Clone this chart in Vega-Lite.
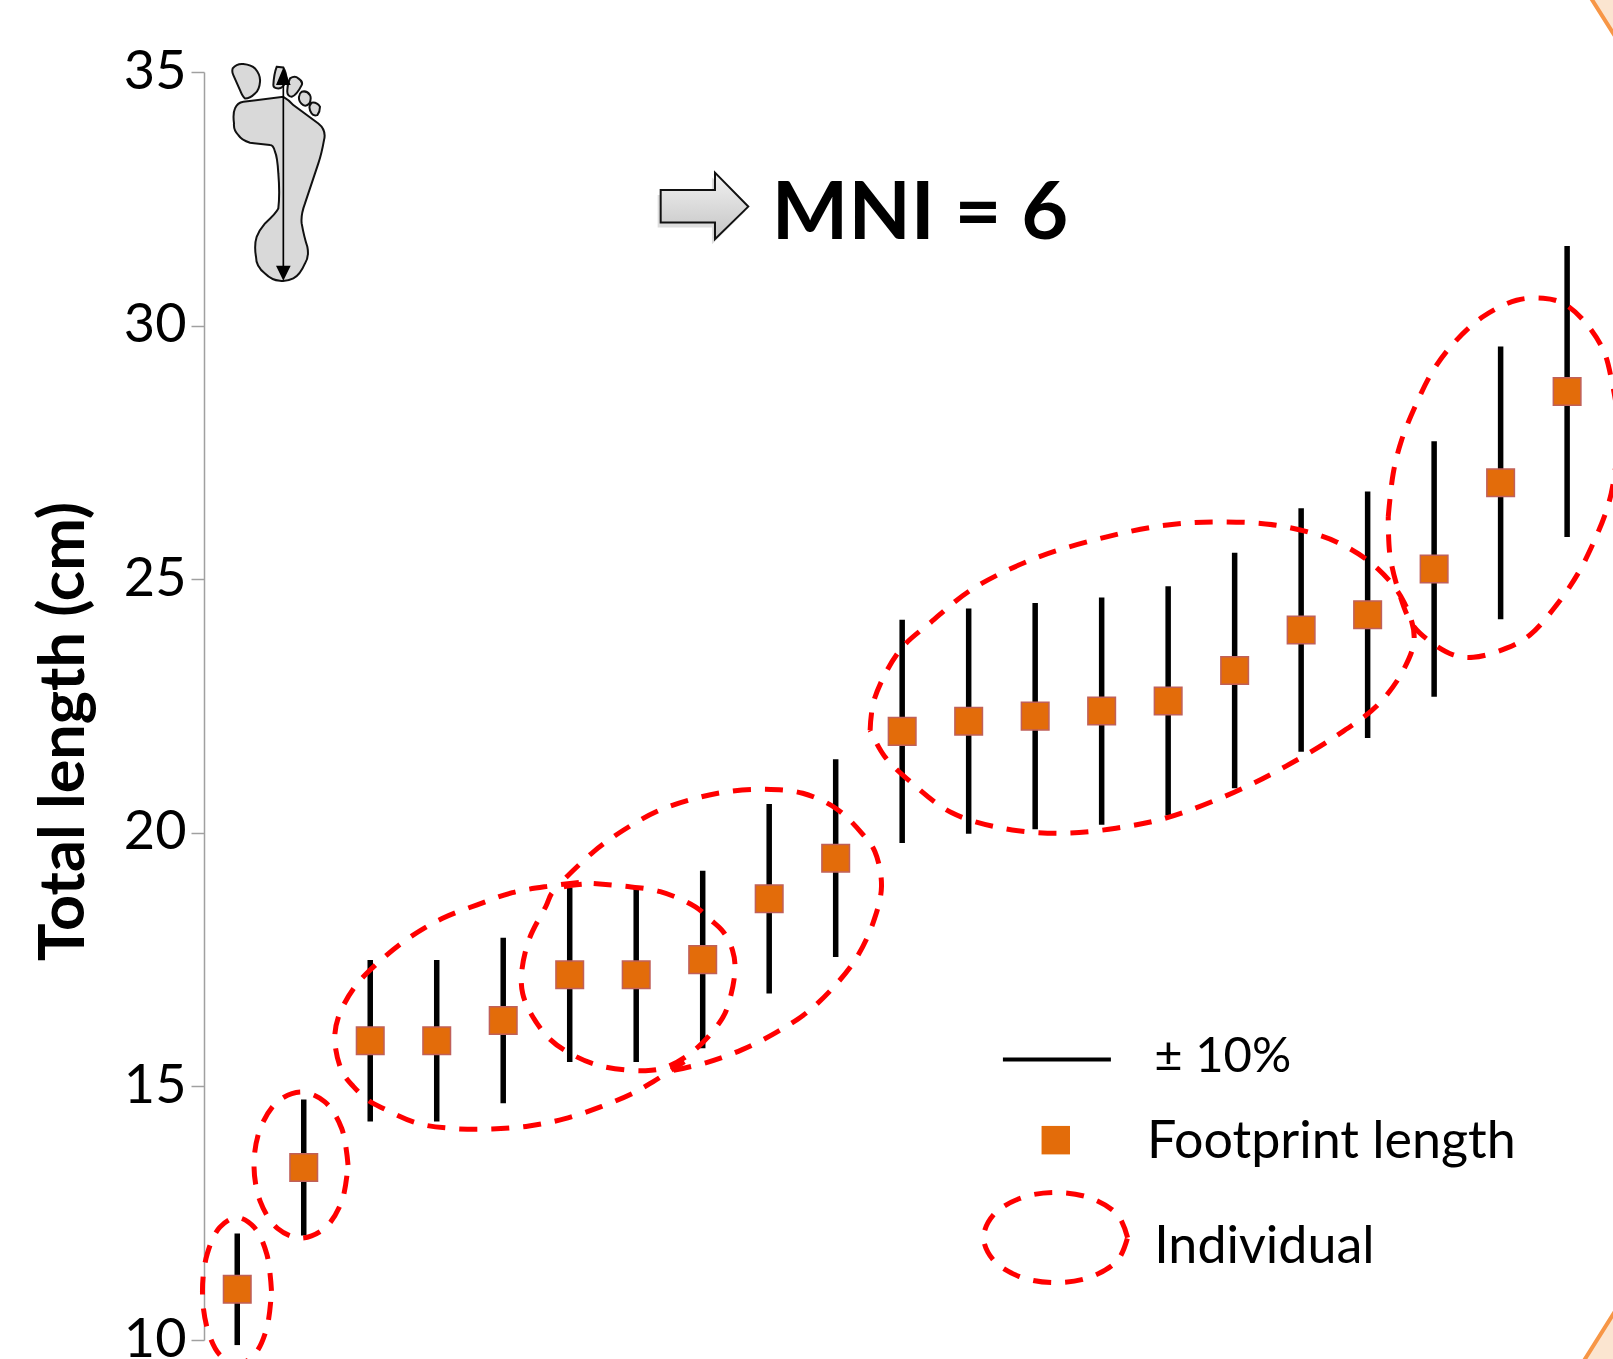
{
"$schema":"https://vega.github.io/schema/vega-lite/v6.json",
"width":1409,"height":1268,
"autosize":{"type":"none"},
"padding":{"left":204,"top":72,"right":0,"bottom":19},
"background":"white",
"config":{"view":{"stroke":null},"font":"Lato"},
"resolve":{"axis":{"x":"independent","y":"independent"}},
"datasets":{
"footprints":[
{"n":1,"length":11,"lo":9.9,"hi":12.1},{"n":2,"length":13.4,"lo":12.06,"hi":14.74},{"n":3,"length":15.9,"lo":14.31,"hi":17.49},{"n":4,"length":15.9,"lo":14.31,"hi":17.49},{"n":5,"length":16.3,"lo":14.67,"hi":17.93},{"n":6,"length":17.2,"lo":15.48,"hi":18.92},{"n":7,"length":17.2,"lo":15.48,"hi":18.92},{"n":8,"length":17.5,"lo":15.75,"hi":19.25},{"n":9,"length":18.7,"lo":16.83,"hi":20.57},{"n":10,"length":19.5,"lo":17.55,"hi":21.45},{"n":11,"length":22,"lo":19.8,"hi":24.2},{"n":12,"length":22.2,"lo":19.98,"hi":24.42},{"n":13,"length":22.3,"lo":20.07,"hi":24.53},{"n":14,"length":22.4,"lo":20.16,"hi":24.64},{"n":15,"length":22.6,"lo":20.34,"hi":24.86},{"n":16,"length":23.2,"lo":20.88,"hi":25.52},{"n":17,"length":24,"lo":21.6,"hi":26.4},{"n":18,"length":24.3,"lo":21.87,"hi":26.73},{"n":19,"length":25.2,"lo":22.68,"hi":27.72},{"n":20,"length":26.9,"lo":24.21,"hi":29.59},{"n":21,"length":28.7,"lo":25.83,"hi":31.57}],
"outlines":[
{"id":"a","s":1,"x":1.515,"y":10.97},{"id":"a","s":2,"x":1.445,"y":11.69},{"id":"a","s":3,"x":1.256,"y":12.22},{"id":"a","s":4,"x":0.996,"y":12.415},{"id":"a","s":5,"x":0.736,"y":12.22},{"id":"a","s":6,"x":0.547,"y":11.69},{"id":"a","s":7,"x":0.477,"y":10.97},{"id":"a","s":8,"x":0.547,"y":10.24},{"id":"a","s":9,"x":0.736,"y":9.71},{"id":"a","s":10,"x":0.996,"y":9.52},{"id":"a","s":11,"x":1.256,"y":9.71},{"id":"a","s":12,"x":1.445,"y":10.24},{"id":"a","s":13,"x":1.515,"y":10.97},
{"id":"b","s":1,"x":2.666,"y":13.45},{"id":"b","s":2,"x":2.571,"y":14.17},{"id":"b","s":3,"x":2.313,"y":14.7},{"id":"b","s":4,"x":1.959,"y":14.89},{"id":"b","s":5,"x":1.605,"y":14.7},{"id":"b","s":6,"x":1.347,"y":14.17},{"id":"b","s":7,"x":1.252,"y":13.45},{"id":"b","s":8,"x":1.347,"y":12.73},{"id":"b","s":9,"x":1.605,"y":12.2},{"id":"b","s":10,"x":1.959,"y":12.01},{"id":"b","s":11,"x":2.313,"y":12.2},{"id":"b","s":12,"x":2.571,"y":12.73},{"id":"b","s":13,"x":2.666,"y":13.45},
{"id":"c","s":1,"x":6.138,"y":19.02},{"id":"c","s":2,"x":5.693,"y":18.95},{"id":"c","s":3,"x":5.137,"y":18.82},{"id":"c","s":4,"x":4.608,"y":18.58},{"id":"c","s":5,"x":4.08,"y":18.31},{"id":"c","s":6,"x":3.607,"y":17.95},{"id":"c","s":7,"x":3.162,"y":17.49},{"id":"c","s":8,"x":2.773,"y":16.97},{"id":"c","s":9,"x":2.522,"y":16.37},{"id":"c","s":10,"x":2.467,"y":15.91},{"id":"c","s":11,"x":2.578,"y":15.29},{"id":"c","s":12,"x":2.745,"y":15.0},{"id":"c","s":13,"x":2.967,"y":14.73},{"id":"c","s":14,"x":3.19,"y":14.57},{"id":"c","s":15,"x":3.718,"y":14.27},{"id":"c","s":16,"x":4.247,"y":14.17},{"id":"c","s":17,"x":4.831,"y":14.16},{"id":"c","s":18,"x":5.387,"y":14.22},{"id":"c","s":19,"x":5.916,"y":14.36},{"id":"c","s":20,"x":6.472,"y":14.6},{"id":"c","s":21,"x":6.973,"y":14.88},{"id":"c","s":22,"x":7.251,"y":15.09},{"id":"c","s":23,"x":7.724,"y":15.49},
{"id":"d","s":1,"x":6.361,"y":19.0},{"id":"d","s":2,"x":6.806,"y":18.95},{"id":"d","s":3,"x":7.362,"y":18.84},{"id":"d","s":4,"x":7.891,"y":18.54},{"id":"d","s":5,"x":8.113,"y":18.29},{"id":"d","s":6,"x":8.308,"y":18.05},{"id":"d","s":7,"x":8.447,"y":17.69},{"id":"d","s":8,"x":8.486,"y":17.3},{"id":"d","s":9,"x":8.391,"y":16.64},{"id":"d","s":10,"x":8.28,"y":16.31},{"id":"d","s":11,"x":7.891,"y":15.73},{"id":"d","s":12,"x":7.474,"y":15.39},{"id":"d","s":13,"x":7.14,"y":15.31},{"id":"d","s":14,"x":6.416,"y":15.42},{"id":"d","s":15,"x":5.916,"y":15.72},{"id":"d","s":16,"x":5.665,"y":15.98},{"id":"d","s":17,"x":5.415,"y":16.44},{"id":"d","s":18,"x":5.293,"y":16.83},{"id":"d","s":19,"x":5.276,"y":17.23},{"id":"d","s":20,"x":5.387,"y":17.89},{"id":"d","s":21,"x":5.638,"y":18.54},{"id":"d","s":22,"x":5.777,"y":18.87},{"id":"d","s":23,"x":6.361,"y":19.0},
{"id":"e","s":1,"x":5.944,"y":19.12},{"id":"e","s":2,"x":6.361,"y":19.63},{"id":"e","s":3,"x":6.806,"y":20.05},{"id":"e","s":4,"x":7.307,"y":20.42},{"id":"e","s":5,"x":7.835,"y":20.66},{"id":"e","s":6,"x":8.364,"y":20.81},{"id":"e","s":7,"x":8.948,"y":20.86},{"id":"e","s":8,"x":9.504,"y":20.78},{"id":"e","s":9,"x":10.005,"y":20.48},{"id":"e","s":10,"x":10.394,"y":19.99},{"id":"e","s":11,"x":10.589,"y":19.63},{"id":"e","s":12,"x":10.689,"y":18.94},{"id":"e","s":13,"x":10.561,"y":18.22},{"id":"e","s":14,"x":10.311,"y":17.53},{"id":"e","s":15,"x":9.977,"y":16.97},{"id":"e","s":16,"x":9.56,"y":16.45},{"id":"e","s":17,"x":9.087,"y":16.05},{"id":"e","s":18,"x":8.586,"y":15.72},{"id":"e","s":19,"x":8.058,"y":15.47},{"id":"e","s":20,"x":7.501,"y":15.3},
{"id":"f","s":1,"x":10.518,"y":22.02},{"id":"f","s":2,"x":10.58,"y":22.63},{"id":"f","s":3,"x":10.966,"y":23.6},{"id":"f","s":4,"x":11.43,"y":24.15},{"id":"f","s":5,"x":12.049,"y":24.8},{"id":"f","s":6,"x":12.977,"y":25.4},{"id":"f","s":7,"x":14.06,"y":25.83},{"id":"f","s":8,"x":14.988,"y":26.07},{"id":"f","s":9,"x":15.839,"y":26.13},{"id":"f","s":10,"x":16.69,"y":26.05},{"id":"f","s":11,"x":17.54,"y":25.73},{"id":"f","s":12,"x":18.159,"y":25.2},{"id":"f","s":13,"x":18.546,"y":24.55},{"id":"f","s":14,"x":18.7,"y":23.84},{"id":"f","s":15,"x":18.546,"y":23.23},{"id":"f","s":16,"x":18.159,"y":22.53},{"id":"f","s":17,"x":17.54,"y":21.92},{"id":"f","s":18,"x":16.767,"y":21.31},{"id":"f","s":19,"x":15.994,"y":20.8},{"id":"f","s":20,"x":14.988,"y":20.3},{"id":"f","s":21,"x":14.215,"y":20.09},{"id":"f","s":22,"x":13.364,"y":19.99},{"id":"f","s":23,"x":12.513,"y":20.09},{"id":"f","s":24,"x":11.74,"y":20.4},{"id":"f","s":25,"x":11.121,"y":21.01},{"id":"f","s":26,"x":10.734,"y":21.51},{"id":"f","s":27,"x":10.518,"y":22.02},
{"id":"g","s":1,"x":18.31,"y":26.23},{"id":"g","s":2,"x":18.385,"y":27.09},{"id":"g","s":3,"x":18.51,"y":27.74},{"id":"g","s":4,"x":18.736,"y":28.47},{"id":"g","s":5,"x":18.987,"y":29.12},{"id":"g","s":6,"x":19.312,"y":29.68},{"id":"g","s":7,"x":19.738,"y":30.18},{"id":"g","s":8,"x":20.24,"y":30.5},{"id":"g","s":9,"x":20.641,"y":30.54},{"id":"g","s":10,"x":20.941,"y":30.44},{"id":"g","s":11,"x":21.242,"y":30.11},{"id":"g","s":12,"x":21.543,"y":29.52},{"id":"g","s":13,"x":21.668,"y":28.93},{"id":"g","s":14,"x":21.768,"y":28.01},{"id":"g","s":15,"x":21.693,"y":26.89},{"id":"g","s":16,"x":21.593,"y":26.36},{"id":"g","s":17,"x":21.393,"y":25.71},{"id":"g","s":18,"x":21.167,"y":25.12},{"id":"g","s":19,"x":20.841,"y":24.49},{"id":"g","s":20,"x":20.44,"y":23.9},{"id":"g","s":21,"x":20.089,"y":23.64},{"id":"g","s":22,"x":19.588,"y":23.46},{"id":"g","s":23,"x":19.287,"y":23.51},{"id":"g","s":24,"x":18.911,"y":23.8},{"id":"g","s":25,"x":18.661,"y":24.13},{"id":"g","s":26,"x":18.46,"y":24.79},{"id":"g","s":27,"x":18.335,"y":25.48},{"id":"g","s":28,"x":18.31,"y":26.23},
{"id":"legend","s":1,"x":14.39,"y":12.02},{"id":"legend","s":2,"x":14.245,"y":12.46},{"id":"legend","s":3,"x":13.849,"y":12.79},{"id":"legend","s":4,"x":13.307,"y":12.91},{"id":"legend","s":5,"x":12.765,"y":12.79},{"id":"legend","s":6,"x":12.369,"y":12.46},{"id":"legend","s":7,"x":12.224,"y":12.02},{"id":"legend","s":8,"x":12.369,"y":11.58},{"id":"legend","s":9,"x":12.765,"y":11.25},{"id":"legend","s":10,"x":13.307,"y":11.13},{"id":"legend","s":11,"x":13.849,"y":11.25},{"id":"legend","s":12,"x":14.245,"y":11.58},{"id":"legend","s":13,"x":14.39,"y":12.02}],
"labels":[
{"text":"Footprint length","x":14.68,"y":13.9},
{"text":"Individual","x":14.79,"y":11.83}]
},
"layer":[
{"data":{"name":"footprints"},"mark":{"type":"rule","color":"black","strokeWidth":5.5},
"encoding":{
"x":{"field":"n","type":"quantitative","scale":{"domain":[0.5,21.69],"nice":false,"zero":false},"axis":null},
"y":{"field":"lo","type":"quantitative","scale":{"domain":[10,35],"nice":false,"zero":false},
"axis":{"title":"Total length (cm)","titleFontSize":63,"titleFontWeight":"bold","titleColor":"black","titleFont":"Lato","titleX":-140,"titleY":659,"titleAngle":-90,"titleAlign":"center","titleBaseline":"middle","values":[10,15,20,25,30,35],"grid":false,"domainColor":"#a0a0a0","domainWidth":1.5,"tickColor":"#a0a0a0","tickWidth":1.5,"tickSize":13,"labelFontSize":54,"labelFont":"Lato","labelColor":"black","labelPadding":5,"labelBound":false,"labelFlush":false,"labelOverlap":false}},
"y2":{"field":"hi"}}},
{"data":{"name":"outlines"},"mark":{"type":"line","color":"#ff0000","strokeWidth":5,"strokeDash":[18,14],"interpolate":"catmull-rom"},
"encoding":{
"x":{"field":"x","type":"quantitative","axis":null},
"y":{"field":"y","type":"quantitative","axis":null},
"detail":{"field":"id"},
"order":{"field":"s","type":"quantitative"}}},
{"data":{"name":"footprints"},"mark":{"type":"square","size":760,"fill":"#E36C0A","stroke":"#C0605A","strokeWidth":1.5,"opacity":1},
"encoding":{
"x":{"field":"n","type":"quantitative","axis":null},
"y":{"field":"length","type":"quantitative","axis":null}}},
{"data":{"values":[{"x1":12.515,"x2":14.139,"y":15.53}]},"mark":{"type":"rule","color":"black","strokeWidth":4},
"encoding":{
"x":{"field":"x1","type":"quantitative","axis":null},"x2":{"field":"x2"},
"y":{"field":"y","type":"quantitative","axis":null}}},
{"data":{"values":[{"x":13.31,"y":13.94}]},"mark":{"type":"square","size":810,"fill":"#E36C0A","opacity":1},
"encoding":{
"x":{"field":"x","type":"quantitative","axis":null},
"y":{"field":"y","type":"quantitative","axis":null}}},
{"data":{"values":[{"text":"± 10%","x":14.79,"y":15.58}]},"mark":{"type":"text","align":"left","baseline":"middle","fontSize":49,"font":"Lato","color":"black"},
"encoding":{
"x":{"field":"x","type":"quantitative","axis":null},
"y":{"field":"y","type":"quantitative","axis":null},
"text":{"field":"text"}}},
{"data":{"name":"labels"},"mark":{"type":"text","align":"left","baseline":"middle","fontSize":52,"font":"Lato","color":"black"},
"encoding":{
"x":{"field":"x","type":"quantitative","axis":null},
"y":{"field":"y","type":"quantitative","axis":null},
"text":{"field":"text"}}},
{"data":{"values":[{"x":9.04,"y":32.18,"text":"MNI = 6"}]},"mark":{"type":"text","align":"left","baseline":"middle","fontSize":81,"fontWeight":"bold","font":"Lato","color":"black"},
"encoding":{
"x":{"field":"x","type":"quantitative","axis":null},
"y":{"field":"y","type":"quantitative","axis":null},
"text":{"field":"text"}}},
{"data":{"values":[{"x":1.643,"y":33.0}]},"mark":{"type":"point","filled":true,"size":0.4444,"fill":"#d9d9d9","stroke":"#111111","strokeWidth":2,"opacity":1,
"shape":"M-110,-215 L10,-230 Q25,-222 40,-205 L115,-150 Q140,-130 132,-100 Q125,-60 115,-30 L75,90 Q62,125 65,150 Q72,190 82,220 Q88,250 75,270 Q60,305 40,315 Q20,325 0,322 Q-25,320 -45,300 Q-72,280 -72,250 Q-78,215 -70,190 Q-62,170 -45,150 Q-10,118 -5,105 Q0,60 -5,0 Q-8,-50 -15,-65 Q-20,-85 -30,-85 L-90,-92 Q-115,-100 -125,-115 Q-140,-130 -138,-150 Q-142,-180 -135,-195 Q-128,-212 -110,-215 Z M-142,-315 Q-130,-330 -110,-328 Q-85,-325 -75,-315 Q-58,-295 -60,-275 Q-62,-250 -75,-240 Q-90,-225 -105,-225 Q-112,-230 -120,-250 L-140,-295 Q-145,-305 -142,-315 Z M-10,-320 L10,-318 Q20,-300 20,-280 Q10,-255 -5,-255 Q-20,-255 -20,-265 Q-18,-300 -10,-320 Z M30,-285 Q45,-295 55,-285 Q70,-275 65,-265 Q50,-235 35,-230 Q20,-232 22,-250 Q22,-270 30,-285 Z M65,-245 Q80,-250 90,-235 Q95,-225 88,-210 Q80,-200 70,-205 Q55,-215 57,-230 Q58,-240 65,-245 Z M95,-212 Q110,-215 120,-200 Q120,-185 112,-175 Q100,-172 95,-180 Q85,-195 90,-205 Z"},
"encoding":{
"x":{"field":"x","type":"quantitative","axis":null},
"y":{"field":"y","type":"quantitative","axis":null}}},
{"data":{"values":[{"x":1.643,"y":33.0}]},"mark":{"type":"point","filled":true,"size":0.4444,"fill":"#000000","opacity":1,
"shape":"M10,-318 L32,-265 L12.5,-265 L12.5,277 L32,277 L10,322 L-12,277 L7.5,277 L7.5,-265 L-12,-265 Z"},
"encoding":{
"x":{"field":"x","type":"quantitative","axis":null},
"y":{"field":"y","type":"quantitative","axis":null}}},
{"data":{"values":[{"x":7.959,"y":32.36}]},"mark":{"type":"point","filled":true,"size":4,"fill":"#777777","opacity":0.25,"xOffset":-3,"yOffset":5,
"shape":"M-39.3,-16 L15,-16 L15,-33.3 L48.3,0.7 L15,33.3 L15,16.7 L-39.3,16.7 Z"},
"encoding":{
"x":{"field":"x","type":"quantitative","axis":null},
"y":{"field":"y","type":"quantitative","axis":null}}},
{"data":{"values":[{"x":7.959,"y":32.36}]},"mark":{"type":"point","filled":true,"size":4,"opacity":1,"stroke":"#111111","strokeWidth":2,
"fill":{"gradient":"linear","x1":0,"y1":0,"x2":0,"y2":1,"stops":[{"offset":0,"color":"#f2f2f2"},{"offset":1,"color":"#c4c4c4"}]},
"shape":"M-39.3,-16 L15,-16 L15,-33.3 L48.3,0.7 L15,33.3 L15,16.7 L-39.3,16.7 Z"},
"encoding":{
"x":{"field":"x","type":"quantitative","axis":null},
"y":{"field":"y","type":"quantitative","axis":null}}},
{"data":{"values":[{"x":21.69,"y":36.42}]},"mark":{"type":"point","filled":true,"size":4,"opacity":1,"fill":"#fbe5d0","stroke":"#f79646","strokeWidth":4,
"shape":"M-24,-5 L5,41 L5,-5 Z"},
"encoding":{
"x":{"field":"x","type":"quantitative","axis":null},
"y":{"field":"y","type":"quantitative","axis":null}}},
{"data":{"values":[{"x":21.69,"y":9.63}]},"mark":{"type":"point","filled":true,"size":4,"opacity":1,"fill":"#fbe5d0","stroke":"#f79646","strokeWidth":4,
"shape":"M-31,5 L3,-49 L3,5 Z"},
"encoding":{
"x":{"field":"x","type":"quantitative","axis":null},
"y":{"field":"y","type":"quantitative","axis":null}}}
]
}
